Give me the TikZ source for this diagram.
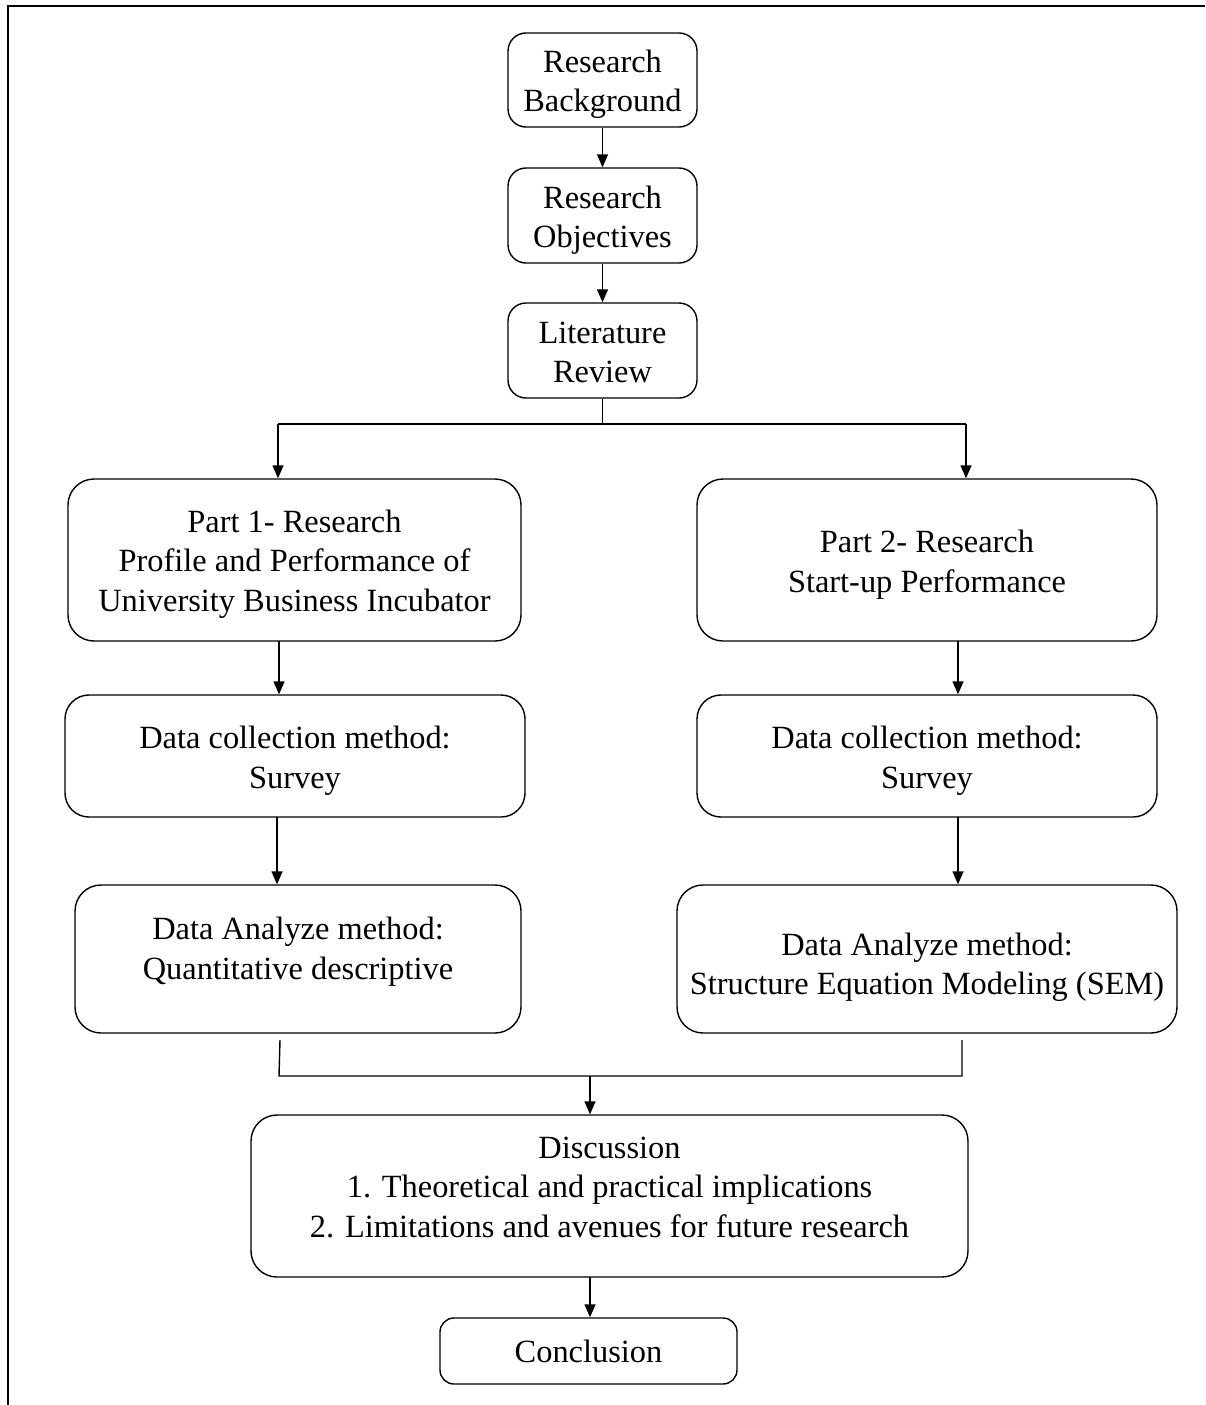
\documentclass[tikz,border=0pt]{standalone}
\usepackage{fontspec}
\setmainfont{Liberation Serif}
\usetikzlibrary{arrows.meta}
\begin{document}
\begin{tikzpicture}[x=1pt,y=-1pt,
  box/.style={draw, line width=1.4pt, rounded corners=18pt, inner sep=0pt},
  lbl/.style={align=center, inner sep=0pt, font=\fontsize{32.4}{39.5}\selectfont},
  conn/.style={line width=1.4pt},
  arr/.style={conn, -{Triangle[length=13pt,width=11pt]}}]
\useasboundingbox (0,0) rectangle (1205,1405);
\fill[white] (0,0) rectangle (1205,1405);
% frame (top and left edges visible)
\draw[line width=2.5pt] (1205,6) -- (8,6) -- (8,1405);
% boxes
\node[box, minimum width=189pt, minimum height=94pt,
  label={[lbl, yshift=-4.5pt]center:{Research\\Background}}] (rb) at (602.5,80) {};
\node[box, minimum width=189pt, minimum height=95pt,
  label={[lbl, yshift=-4.5pt]center:{Research\\Objectives}}] (ro) at (602.5,215.5) {};
\node[box, minimum width=189pt, minimum height=95pt,
  label={[lbl, yshift=-2pt]center:{Literature\\Review}}] (lr) at (602.5,350.5) {};
\node[box, minimum width=453pt, minimum height=162pt, rounded corners=26pt,
  label={[lbl, yshift=-4pt]center:{Part 1- Research\\Profile and Performance of\\University Business Incubator}}] (p1) at (294.5,560) {};
\node[box, minimum width=460pt, minimum height=162pt, rounded corners=26pt,
  label={[lbl, yshift=-4.5pt]center:{Part 2- Research\\Start-up Performance}}] (p2) at (927,560) {};
\node[box, minimum width=460pt, minimum height=122pt, rounded corners=24pt,
  label={[lbl, yshift=-4.5pt]center:{Data collection method:\\Survey}}] (dc1) at (295,756) {};
\node[box, minimum width=460pt, minimum height=122pt, rounded corners=24pt,
  label={[lbl, yshift=-4.5pt]center:{Data collection method:\\Survey}}] (dc2) at (927,756) {};
\node[box, minimum width=446pt, minimum height=148pt, rounded corners=26pt,
  label={[lbl, yshift=7.5pt]center:{Data Analyze method:\\Quantitative descriptive}}] (da1) at (298,959) {};
\node[box, minimum width=500pt, minimum height=148pt, rounded corners=26pt,
  label={[lbl, yshift=-8pt]center:{Data Analyze method:\\Structure Equation Modeling (SEM)}}] (da2) at (927,959) {};
\node[box, minimum width=717pt, minimum height=162pt, rounded corners=26pt,
  label={[lbl, yshift=9pt]center:{Discussion\\1. Theoretical and practical implications\\2. Limitations and avenues for future research}}] (disc) at (609.5,1196) {};
\node[box, minimum width=297pt, minimum height=66pt, rounded corners=14pt,
  label={[lbl]center:{Conclusion}}] (conc) at (588.5,1351) {};
% connectors
\draw[arr] (rb) -- (ro);
\draw[arr] (ro) -- (lr);
\coordinate (br) at (602.5,424);
\coordinate (brl) at (278,424);
\coordinate (brr) at (966,424);
\draw[conn] (lr.south) -- (br);
\draw[conn] (brl) -- (brr);
\draw[arr] (brl) -- (brl |- p1.north);
\draw[arr] (brr) -- (brr |- p2.north);
\coordinate (a1) at (279,641);
\draw[arr] (a1) -- (a1 |- dc1.north);
\coordinate (a2) at (958,641);
\draw[arr] (a2) -- (a2 |- dc2.north);
\coordinate (b1) at (277,817);
\draw[arr] (b1) -- (b1 |- da1.north);
\coordinate (b2) at (958,817);
\draw[arr] (b2) -- (b2 |- da2.north);
\coordinate (j1) at (280,1040);
\coordinate (j2) at (962,1040);
\coordinate (jl) at (279,1076);
\coordinate (jr) at (962,1076);
\coordinate (jm) at (590,1076);
\draw[conn] (j1) -- (jl) -- (jr) -- (j2);
\draw[arr] (jm) -- (jm |- disc.north);
\coordinate (c1) at (590,1277);
\draw[arr] (c1) -- (c1 |- conc.north);
\end{tikzpicture}
\end{document}
